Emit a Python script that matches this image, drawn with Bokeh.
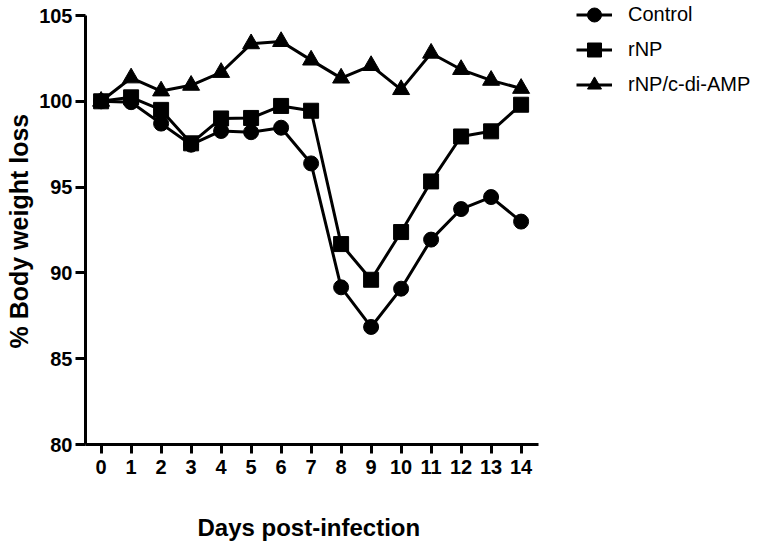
from bokeh.plotting import figure
from bokeh.models import (Range1d, FixedTicker, Legend, LegendItem, Title, LinearAxis,
                          CustomJSTickFormatter)
from bokeh.embed import file_html
from bokeh.resources import INLINE

days = list(range(15))
control = [100.0, 99.95, 98.7, 97.47, 98.27, 98.2, 98.46, 96.38, 89.16, 86.85, 89.08, 91.94, 93.72, 94.42, 92.99]
rnp = [100.0, 100.23, 99.5, 97.55, 99.0, 99.03, 99.73, 99.45, 91.68, 89.6, 92.38, 95.33, 97.95, 98.25, 99.8]
rnp_cdiamp = [100.0, 101.36, 100.6, 100.93, 101.68, 103.35, 103.48, 102.4, 101.35, 102.08, 100.68, 102.8, 101.85, 101.22, 100.75]
x_ticks = list(range(15))
y_ticks = [80, 85, 90, 95, 100, 105]
labels = ["Control", "rNP", "rNP/c-di-AMP"]

FONT = "Liberation Sans"

# drawn axis extents; the frame itself reaches the top and right edges so the legend fits inside it
X_AXIS = (-0.52, 14.58)
Y_AXIS = (80, 105)
X_VIEW_END = 14.58 + 220 / 30.0
Y_VIEW_END = 105 + 15 / 17.16

p = figure(width=758, height=547, output_backend="svg", toolbar_location=None,
           x_range=Range1d(X_AXIS[0], X_VIEW_END), y_range=Range1d(Y_AXIS[0], Y_VIEW_END),
           min_border_left=85, min_border_top=0, min_border_right=0, min_border_bottom=103)
p.outline_line_color = None
p.grid.visible = False
p.background_fill_color = "white"
p.border_fill_color = "white"

for ax in (p.xaxis[0], p.yaxis[0]):
    ax.axis_line_width = 3
    ax.axis_line_color = "black"
    ax.major_tick_line_width = 3
    ax.major_tick_line_color = "black"
    ax.major_tick_in = 0
    ax.minor_tick_line_color = None
    ax.major_label_text_font = FONT
    ax.major_label_text_font_style = "bold"
    ax.major_label_text_font_size = "20px"
    ax.major_label_text_color = "black"

p.xaxis[0].bounds = X_AXIS
p.yaxis[0].bounds = Y_AXIS
p.xaxis[0].ticker = FixedTicker(ticks=x_ticks)
p.yaxis[0].ticker = FixedTicker(ticks=y_ticks)
p.xaxis[0].major_tick_out = 9
p.yaxis[0].major_tick_out = 10
p.xaxis[0].major_label_standoff = 6
p.yaxis[0].major_label_standoff = 3

# blank spacer axis below the x axis (white tick on white, empty labels) to push the x title down
spacer = LinearAxis(ticker=FixedTicker(ticks=[x_ticks[0]]), axis_line_color=None,
                    major_tick_out=31, major_tick_in=0, major_tick_line_color="white",
                    minor_tick_out=0, minor_tick_in=0, minor_tick_line_color=None,
                    major_label_standoff=0,
                    formatter=CustomJSTickFormatter(code="return ''"))
p.add_layout(spacer, "below")

xtitle = Title(text="Days post-infection", align="left", offset=112, vertical_align="bottom",
               standoff=8, text_font=FONT, text_font_style="bold", text_font_size="24px",
               text_color="black")
p.add_layout(xtitle, "below")

ytitle = Title(text="% Body weight loss", align="left", offset=96, vertical_align="top",
               standoff=4, text_font=FONT, text_font_style="bold", text_font_size="25px",
               text_color="black")
p.add_layout(ytitle, "left")

series = [(control, "circle", 15), (rnp, "square", 15), (rnp_cdiamp, "triangle", 17)]
items = []
for (vals, marker, size), lab in zip(series, labels):
    lr = p.line(days, vals, line_width=3, line_color="black")
    sr = p.scatter(days, vals, marker=marker, size=size, fill_color="black", line_color="black")
    items.append(LegendItem(label=lab, renderers=[lr, sr]))

legend = Legend(items=items, location=(491, 342), padding=0, margin=0,
                glyph_width=36, glyph_height=35, spacing=0, label_standoff=16,
                label_text_font=FONT, label_text_font_size="20px",
                label_text_color="black", border_line_color=None,
                background_fill_alpha=0)
p.add_layout(legend, "center")

open("out.html", "w").write(file_html(p, INLINE))
